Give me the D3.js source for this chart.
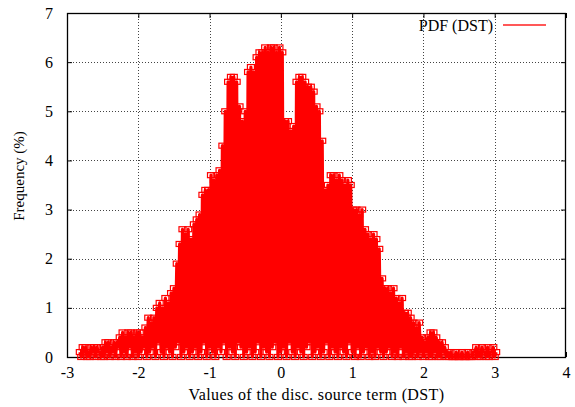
<!DOCTYPE html>
<html><head><meta charset="utf-8">
<script src="https://cdn.jsdelivr.net/npm/d3@7"></script>
<style>
body{margin:0;background:#fff}
svg{display:block}
text{font-family:"Liberation Serif","DejaVu Serif",serif;fill:#000}
</style>
</head><body>
<svg id="chart" width="575" height="407"></svg>
<script>
const xTicks = [-3,-2,-1,0,1,2,3,4];
const yTicks = [0,1,2,3,4,5,6,7];
const xLabel = "Values of the disc. source term (DST)";
const yLabel = "Frequency (%)";
const seriesName = "PDF (DST)";

// local maxima of the PDF trace (x, frequency %)
const peakX = [
-2.82,-2.78,-2.74,-2.70,-2.66,-2.62,-2.58,-2.54,-2.50,-2.46,
-2.42,-2.38,-2.34,-2.30,-2.26,-2.22,-2.18,-2.14,-2.10,-2.06,
-2.02,-1.98,-1.94,-1.90,-1.86,-1.82,-1.78,-1.74,-1.70,-1.66,
-1.62,-1.58,-1.54,-1.50,-1.46,-1.42,-1.38,-1.34,-1.30,-1.26,
-1.22,-1.18,-1.14,-1.10,-1.06,-1.02,-0.98,-0.94,-0.90,-0.86,
-0.82,-0.78,-0.74,-0.70,-0.66,-0.62,-0.58,-0.54,-0.50,-0.46,
-0.42,-0.38,-0.34,-0.30,-0.26,-0.22,-0.18,-0.14,-0.10,-0.06,
-0.02,0.02,0.06,0.10,0.14,0.18,0.22,0.26,0.30,0.34,
0.38,0.42,0.46,0.50,0.54,0.58,0.62,0.66,0.70,0.74,
0.78,0.82,0.86,0.90,0.94,0.98,1.02,1.06,1.10,1.14,
1.18,1.22,1.26,1.30,1.34,1.38,1.42,1.46,1.50,1.54,
1.58,1.62,1.66,1.70,1.74,1.78,1.82,1.86,1.90,1.94,
1.98,2.02,2.06,2.10,2.14,2.18,2.22,2.26,2.30,2.34,
2.38,2.42,2.46,2.50,2.54,2.58,2.62,2.66,2.70,2.74,
2.78,2.82,2.86,2.90,2.94,2.98,3.02];
const peakY = [
0.1,0.2,0.2,0.1,0.2,0.2,0.2,0.1,0.2,0.3,
0.3,0.2,0.3,0.3,0.4,0.5,0.4,0.5,0.5,0.4,
0.5,0.5,0.4,0.6,0.8,0.7,0.8,1.0,1.1,1.0,
1.2,1.1,1.3,1.4,1.9,2.3,2.6,2.5,2.6,2.4,
2.7,2.8,2.9,3.3,3.4,3.4,3.7,3.6,3.7,3.8,
4.3,5.0,5.6,5.7,5.7,5.6,5.1,4.8,5.0,5.8,
5.9,5.8,6.1,6.2,6.2,6.3,6.2,6.3,6.3,6.2,
6.3,6.2,4.8,4.8,4.6,4.7,5.6,5.7,5.7,5.6,
5.5,5.5,5.4,5.1,5.0,4.4,3.4,3.5,3.7,3.7,
3.6,3.7,3.6,3.5,3.6,3.5,3.0,3.0,2.9,3.0,
2.6,2.5,2.4,2.5,2.4,2.2,1.6,1.4,1.4,1.3,
1.4,1.2,1.1,1.2,0.9,0.9,0.8,0.7,0.6,0.7,
0.4,0.3,0.4,0.5,0.5,0.4,0.3,0.3,0.2,0.1,
0.1,0.0,0.1,0.0,0.1,0.0,0.1,0.0,0.1,0.2,
0.1,0.2,0.1,0.2,0.1,0.2,0.1];

// local minima between the maxima
const troughX = [
-2.80,-2.76,-2.72,-2.68,-2.64,-2.60,-2.56,-2.52,-2.48,-2.44,
-2.40,-2.36,-2.32,-2.28,-2.24,-2.20,-2.16,-2.12,-2.08,-2.04,
-2.00,-1.96,-1.92,-1.88,-1.84,-1.80,-1.76,-1.72,-1.68,-1.64,
-1.60,-1.56,-1.52,-1.48,-1.44,-1.40,-1.36,-1.32,-1.28,-1.24,
-1.20,-1.16,-1.12,-1.08,-1.04,-1.00,-0.96,-0.92,-0.88,-0.84,
-0.80,-0.76,-0.72,-0.68,-0.64,-0.60,-0.56,-0.52,-0.48,-0.44,
-0.40,-0.36,-0.32,-0.28,-0.24,-0.20,-0.16,-0.12,-0.08,-0.04,
0.00,0.04,0.08,0.12,0.16,0.20,0.24,0.28,0.32,0.36,
0.40,0.44,0.48,0.52,0.56,0.60,0.64,0.68,0.72,0.76,
0.80,0.84,0.88,0.92,0.96,1.00,1.04,1.08,1.12,1.16,
1.20,1.24,1.28,1.32,1.36,1.40,1.44,1.48,1.52,1.56,
1.60,1.64,1.68,1.72,1.76,1.80,1.84,1.88,1.92,1.96,
2.00,2.04,2.08,2.12,2.16,2.20,2.24,2.28,2.32,2.36,
2.40,2.44,2.48,2.52,2.56,2.60,2.64,2.68,2.72,2.76,
2.80,2.84,2.88,2.92,2.96,3.00];
const troughY = [
0,0.1,0,0,0.1,0,0.1,0,0,0.1, 0,0.1,0,0.2,0,0.1,0,0.2,0,0.1,
0,0.1,0.2,0,0.1,0.2,0,0.3,0.1,0, 0.2,0.1,0,0.2,0.3,0,0.1,0.2,0,0.1,
0.2,0,0.1,0.3,0,0.2,0.1,0,0.2,0.1, 0.3,0,0.2,0.1,0,0.3,0.2,0,0.1,0.2,
0,0.1,0.3,0,0.2,0.1,0,0.2,0.3,0, 0.1,0.2,0,0.3,0.1,0,0.2,0.1,0,0.2,
0.3,0,0.1,0.2,0,0.1,0.3,0,0.2,0.1, 0,0.2,0.1,0,0.3,0.1,0,0.2,0,0.1,
0.2,0,0.1,0,0.2,0.1,0,0.1,0.2,0, 0.1,0,0.2,0,0.1,0,0,0.1,0,0.1,
0,0.1,0,0,0.1,0,0,0.1,0,0, 0,0,0,0,0,0,0,0,0.1,0,
0,0.1,0,0,0.1,0];

// build the trace in order: maximum, minimum, maximum, ...
const pts = [];
for (let i = 0; i < peakX.length; i++) {
  pts.push([peakX[i], peakY[i]]);
  if (i < troughX.length) pts.push([troughX[i], troughY[i]]);
}

const L = 67, R = 566, T = 13, B = 357;
const x = d3.scaleLinear().domain([-3,4]).range([L,R]);
const y = d3.scaleLinear().domain([0,7]).range([B,T]);
const svg = d3.select("#chart");
const FONT = '"Liberation Serif","DejaVu Serif",serif';

// grid
const grid = svg.append("g").attr("stroke","#444").attr("stroke-width",1).attr("stroke-dasharray","1,2");
grid.selectAll("line.v").data(xTicks.slice(1,-1)).join("line").attr("class","v")
  .attr("x1",d=>Math.round(x(d))+0.5).attr("x2",d=>Math.round(x(d))+0.5).attr("y1",T).attr("y2",B);
grid.selectAll("line.h").data(yTicks.slice(1,-1)).join("line").attr("class","h")
  .attr("y1",d=>Math.round(y(d))+0.5).attr("y2",d=>Math.round(y(d))+0.5).attr("x1",L).attr("x2",R);

// axes with inward (mirrored) ticks
const gB = svg.append("g").attr("transform",`translate(0,${B})`)
  .call(d3.axisBottom(x).tickValues(xTicks).tickSizeInner(-5).tickSizeOuter(0).tickPadding(10).tickFormat(d3.format("d")));
const gT = svg.append("g").attr("transform",`translate(0,${T})`)
  .call(d3.axisTop(x).tickValues(xTicks).tickSizeInner(-5).tickSizeOuter(0).tickFormat(""));
const gL = svg.append("g").attr("transform",`translate(${L},0)`)
  .call(d3.axisLeft(y).tickValues(yTicks).tickSizeInner(-5).tickSizeOuter(0).tickPadding(14).tickFormat(d3.format("d")));
const gR = svg.append("g").attr("transform",`translate(${R},0)`)
  .call(d3.axisRight(y).tickValues(yTicks).tickSizeInner(-5).tickSizeOuter(0).tickFormat(""));
[gB,gT,gL,gR].forEach(g=>{
  g.select(".domain").remove();
  g.selectAll(".tick line").attr("stroke","#000");
  g.selectAll("text").attr("font-family",FONT).attr("font-size","16px").attr("fill","#000");
});
gB.selectAll("text").text(d=>d<0?"-"+Math.abs(d):d);

// frame
svg.append("rect").attr("x",L+0.5).attr("y",T+0.5).attr("width",R-L-1).attr("height",B-T)
  .attr("fill","none").attr("stroke","#000").attr("stroke-width",1.3);

// data trace
const line = d3.line().x(d=>x(d[0])).y(d=>y(d[1]));
svg.append("path").datum(pts).attr("d",line).attr("fill","none").attr("stroke","#ff0000")
  .attr("stroke-width",3.2).attr("stroke-linejoin","round");
svg.append("g").selectAll("rect").data(pts).join("rect")
  .attr("x",d=>x(d[0])-3.5).attr("y",d=>y(d[1])-2.5).attr("width",7).attr("height",5)
  .attr("fill","none").attr("stroke","#ff0000").attr("stroke-width",1.2);

// axis titles
svg.append("text").attr("x",(L+R)/2).attr("y",400).attr("text-anchor","middle")
  .attr("font-family",FONT).attr("font-size","16px").attr("letter-spacing","0.4px").text(xLabel);
svg.append("text").attr("transform",`translate(24,176) rotate(-90)`).attr("text-anchor","middle")
  .attr("font-family",FONT).attr("font-size","15px").text(yLabel);

// legend
svg.append("text").attr("x",493).attr("y",31).attr("text-anchor","end")
  .attr("font-family",FONT).attr("font-size","16px").text(seriesName);
svg.append("line").attr("x1",503).attr("x2",546).attr("y1",25).attr("y2",25)
  .attr("stroke","#ff2020").attr("stroke-width",1.4);
</script>
</body></html>
